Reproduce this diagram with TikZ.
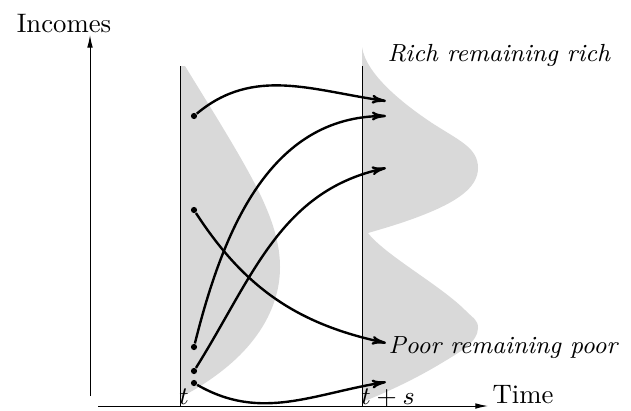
\documentclass[tikz,border=0pt]{standalone}
\usepackage{tikz}
\usetikzlibrary{arrows.meta}
\definecolor{distgray}{HTML}{D9D9D9}

\begin{document}
\begin{tikzpicture}[x=0.0125cm,y=0.0125cm,
    font=\fontsize{9.5}{11}\selectfont,
    axis/.style={line width=0.35pt,-{Latex[length=4.5pt,width=2pt]}},
    flow/.style={line width=0.85pt,-{To[length=5pt,width=3.2pt]}},
    dot/.style={circle,fill,inner sep=0pt,minimum size=2.2pt},
    group/.style={anchor=west,inner sep=0pt,font=\fontsize{8.8}{10}\selectfont\itshape}]
  \useasboundingbox (0,0) rectangle (631,410);
  % income distributions
  \fill[distgray] (180,344) -- (185,344) .. controls (215,295) and (250,240) .. (265,205)
    .. controls (276,180) and (280,160) .. (280,143)
    .. controls (280,105) and (260,75) .. (240,55)
    .. controls (220,35) and (195,20) .. (181,13) -- (180,13) -- cycle;
  \fill[distgray] (362,363) .. controls (366,335) and (405,305) .. (432,287)
    .. controls (460,269) and (478,262) .. (478,242)
    .. controls (478,225) and (462,212) .. (435,200)
    .. controls (410,189) and (385,182) .. (368,177)
    .. controls (385,155) and (440,125) .. (465,100)
    .. controls (474,91) and (478,90) .. (478,82)
    .. controls (478,68) and (460,58) .. (440,46)
    .. controls (410,28) and (380,15) .. (362,8) -- cycle;
  % axes
  \draw[axis] (90,14) -- (90,375);
  \node (incomes) at (64,386) {Incomes};
  \draw[axis] (98,4) -- (488,4);
  \node[anchor=base west,inner sep=0pt] (time) at (492,7) {Time};
  \draw[line width=0.35pt] (180,4) -- (180,344);
  \draw[line width=0.35pt] (362,4) -- (362,344);
  \node[anchor=base] (tlab) at (184,6) {$t$};
  \node[anchor=base] (tslab) at (388,6) {$t+s$};
  % individuals at t
  \node[dot] (a) at (194,294) {};
  \node[dot] (b) at (194,200) {};
  \node[dot] (c) at (194,63) {};
  \node[dot] (d) at (194,39) {};
  \node[dot] (e) at (194,27) {};
  % positions at t+s
  \coordinate (a2) at (386,309);
  \coordinate (b2) at (386,67);
  \coordinate (c2) at (386,294);
  \coordinate (d2) at (386,242);
  \coordinate (e2) at (386,28);
  \draw[flow] (a) to[out=40,in=172] (a2);
  \draw[flow] (b) to[out=-57,in=168] (b2);
  \draw[flow] (c) to[out=76,in=180] (c2);
  \draw[flow] (d) to[out=58,in=192] (d2);
  \draw[flow] (e) to[out=-30,in=189] (e2);
  \node[group] (rich) at (387,355) {Rich remaining rich};
  \node[group] (poor) at (388,62) {Poor remaining poor};
\end{tikzpicture}
\end{document}
